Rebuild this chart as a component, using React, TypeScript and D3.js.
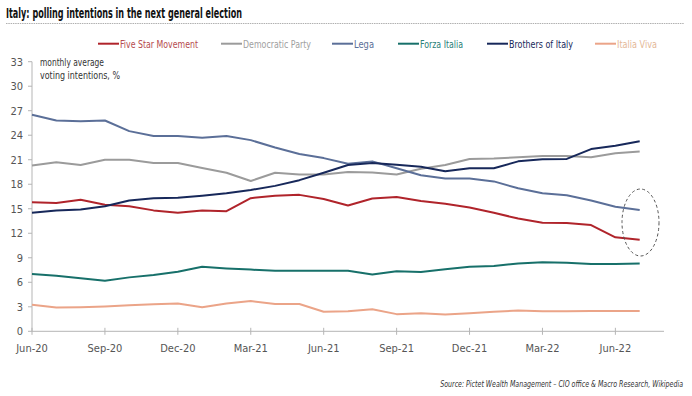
import React, { useLayoutEffect, useRef, useState } from "react";
import * as d3 from "d3";

const months = [
  "Jun-20","Jul-20","Aug-20","Sep-20","Oct-20","Nov-20","Dec-20","Jan-21","Feb-21","Mar-21","Apr-21","May-21",
  "Jun-21","Jul-21","Aug-21","Sep-21","Oct-21","Nov-21","Dec-21","Jan-22","Feb-22","Mar-22","Apr-22","May-22","Jun-22","Jul-22",
];
const xTickLabels = ["Jun-20","Sep-20","Dec-20","Mar-21","Jun-21","Sep-21","Dec-21","Mar-22","Jun-22"];
const yTicks = [0,3,6,9,12,15,18,21,24,27,30,33];

const fiveStar = [15.8,15.7,16.1,15.5,15.3,14.8,14.5,14.8,14.7,16.3,16.6,16.7,16.2,15.4,16.25,16.45,15.95,15.6,15.15,14.5,13.8,13.3,13.25,13.0,11.5,11.2];
const democratic = [20.3,20.7,20.35,21.0,21.0,20.6,20.6,20.0,19.4,18.4,19.4,19.2,19.2,19.5,19.45,19.2,19.9,20.35,21.1,21.15,21.3,21.45,21.45,21.3,21.8,22.0];
const lega = [26.5,25.8,25.7,25.8,24.5,23.9,23.9,23.7,23.9,23.4,22.5,21.7,21.2,20.5,20.8,19.95,19.1,18.7,18.7,18.35,17.5,16.9,16.65,16.0,15.25,14.85];
const forza = [7.0,6.8,6.5,6.2,6.6,6.9,7.3,7.9,7.7,7.55,7.4,7.4,7.4,7.4,6.95,7.35,7.25,7.6,7.9,8.0,8.3,8.45,8.4,8.25,8.25,8.3];
const brothers = [14.5,14.8,14.9,15.3,16.0,16.3,16.35,16.6,16.9,17.3,17.8,18.5,19.4,20.35,20.6,20.4,20.15,19.6,19.95,19.95,20.8,21.05,21.1,22.3,22.7,23.25];
const italiaViva = [3.25,2.9,2.95,3.05,3.2,3.3,3.4,2.95,3.4,3.7,3.35,3.35,2.4,2.45,2.7,2.1,2.2,2.05,2.2,2.4,2.55,2.45,2.45,2.5,2.5,2.5];

const seriesNames = ["Five Star Movement","Democratic Party","Lega","Forza Italia","Brothers of Italy","Italia Viva"];
const seriesColors = ["#b0242b","#9b9b9b","#5b6f98","#17706a","#17285a","#eba488"];
const legendTextColors = ["#b54a4e","#a0a0a0","#5b6f98","#2a8078","#17285a","#e4b898"];
const seriesData = [fiveStar, democratic, lega, forza, brothers, italiaViva];

const FONT = "'Liberation Sans Narrow','DejaVu Sans Condensed','Roboto Condensed',sans-serif";
const SOURCE = "Source: Pictet Wealth Management – CIO office & Macro Research, Wikipedia";

export default function App() {
  const W = 692, H = 396;
  const x = d3.scaleLinear().domain([0, 26]).range([32, 664]);
  const y = d3.scaleLinear().domain([0, 33]).range([331.3, 61.7]);
  const line = d3.line<number>().x((_, i) => x(i)).y((v) => y(v));

  const legendX = [98, 221, 332, 398, 487, 595];
  const legendW = [78, 68, 20, 43, 64, 40];

  const srcRef = useRef<SVGTextElement>(null);
  const [srcScale, setSrcScale] = useState(1);
  useLayoutEffect(() => {
    if (srcRef.current) {
      const w = srcRef.current.getComputedTextLength();
      if (w > 0) setSrcScale(Math.min(1, 243 / w));
    }
  }, []);

  return (
    <svg width={W} height={H} style={{ position: "absolute", left: 0, top: 0, background: "#fff" }} fontFamily={FONT}>
      <rect width={W} height={H} fill="#fff" />
      <text x={6} y={18} fontSize={13.5} fontWeight="bold" fill="#111" textLength={236} lengthAdjust="spacingAndGlyphs">
        Italy: polling intentions in the next general election
      </text>
      <line x1={6} x2={684} y1={23.5} y2={23.5} stroke="#b0b0b0" strokeWidth={1} strokeDasharray="1.5,0.8" />

      {seriesNames.map((n, i) => (
        <g key={n}>
          <line x1={legendX[i]} x2={legendX[i] + 21} y1={43.7} y2={43.7} stroke={seriesColors[i]} strokeWidth={2} />
          <text x={legendX[i] + 22} y={47.5} fontSize={11} fill={legendTextColors[i]} textLength={legendW[i]} lengthAdjust="spacingAndGlyphs">
            {n}
          </text>
        </g>
      ))}

      <text x={40} y={65.5} fontSize={11} fill="#333" textLength={64} lengthAdjust="spacingAndGlyphs">monthly average</text>
      <text x={40} y={78.5} fontSize={11} fill="#333" textLength={80} lengthAdjust="spacingAndGlyphs">voting intentions, %</text>

      {/* Y axis */}
      <line x1={32} x2={32} y1={y(33)} y2={y(0)} stroke="#b5b5b5" />
      {yTicks.map((t) => (
        <g key={t}>
          <line x1={28} x2={32} y1={y(t)} y2={y(t)} stroke="#b5b5b5" />
          <text x={23} y={y(t) + 4} fontSize={11} fill="#555" textAnchor="end">{t}</text>
        </g>
      ))}

      {/* X axis */}
      <line x1={32} x2={664} y1={y(0)} y2={y(0)} stroke="#b5b5b5" />
      {xTickLabels.map((lab) => {
        const i = months.indexOf(lab);
        return (
          <g key={lab}>
            <line x1={x(i)} x2={x(i)} y1={y(0) - 3.5} y2={y(0) + 3.5} stroke="#b5b5b5" />
            <text x={x(i)} y={352} fontSize={11} fill="#555" textAnchor="middle">{lab}</text>
          </g>
        );
      })}

      {seriesData.map((d, i) => (
        <path key={seriesNames[i]} d={line(d) || ""} fill="none" stroke={seriesColors[i]} strokeWidth={2} strokeLinejoin="round" />
      ))}

      <ellipse cx={640.5} cy={222.5} rx={18.5} ry={33.5} fill="none" stroke="#555" strokeWidth={1} strokeDasharray="3,2.5" />

      <g transform={`translate(683,387) scale(${srcScale},1)`}>
        <text ref={srcRef} x={0} y={0} fontSize={9} fontStyle="italic" fill="#333" textAnchor="end">
          {SOURCE}
        </text>
      </g>
    </svg>
  );
}
